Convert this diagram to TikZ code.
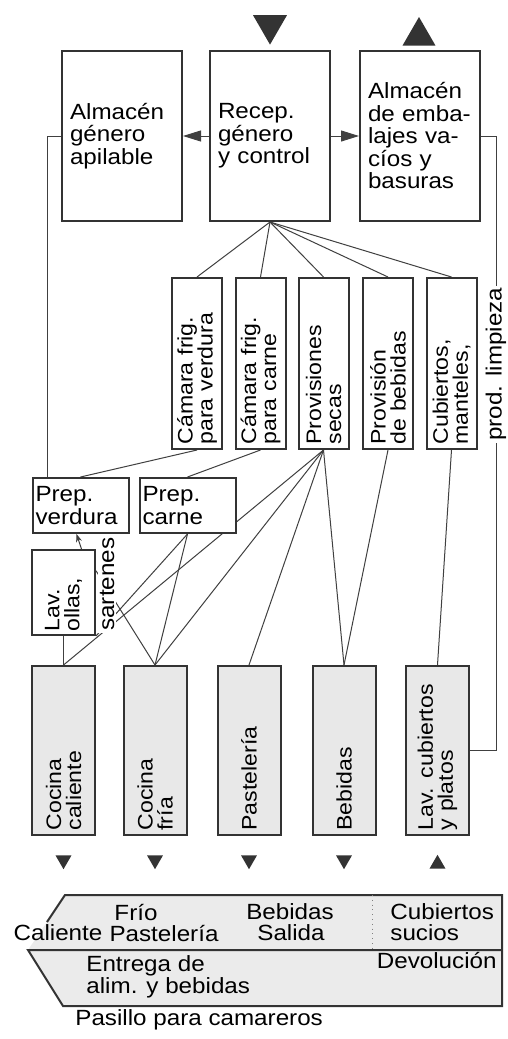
\documentclass[tikz,border=0pt]{standalone}
\usepackage{fontspec}
\setmainfont[FakeStretch=1.1]{Liberation Sans}
\usepackage{tikz}
\usetikzlibrary{positioning,calc,shapes.geometric,arrows.meta,backgrounds}
\tikzset{room/.style={draw=black!80,line width=1pt,fill=white,align=left,inner sep=3pt,
                      font=\fontsize{11}{11.25}\selectfont},
         store/.style={room,minimum width=60pt,minimum height=85pt,text width=52pt},
         prep/.style={room,minimum width=48pt,minimum height=27.5pt,text width=45pt,inner sep=1.5pt,
                      font=\fontsize{11}{11.5}\selectfont},
         vroom/.style={room,rotate=90,inner sep=1.5pt,minimum height=25pt,
                       font=\fontsize{10.5}{10}\selectfont},
         cook/.style={vroom,fill=black!9,minimum width=84.5pt,minimum height=31.5pt,text width=80pt},
         tag/.style={inner sep=1pt,font=\fontsize{11}{9.5}\selectfont,align=left},
         tri/.style={regular polygon,regular polygon sides=3,fill=black!80,inner sep=0pt},
         line/.style={draw=black!75,line width=0.5pt}
}
\tikzstyle{arrow} = [line,-{Triangle[length=9pt,width=5.5pt]}]

\begin{document}
\begin{tikzpicture}[x=0.5pt,y=-0.5pt]
\useasboundingbox (0,0) rectangle (508,1039);

% reception and stores
\node[store] (recep) at (270,136) {Recep.\\género\\y control};
\node[store,left=13pt of recep] (alm) {Almacén\\género\\apilable};
\node[store,right=14pt of recep] (emb) {Almacén\\de emba-\\lajes va-\\cíos y\\basuras};
\node[tri,minimum size=19.6pt,shape border rotate=180] (entry) at (270,25) {};
\node[tri,minimum size=19pt] (exit) at (419,36) {};

% cold rooms and provisions
\node[vroom,minimum width=85.5pt,text width=81pt] (frv) at (197,363.5) {Cámara frig.\\para verdura};
\node[vroom,minimum width=85.5pt,text width=81pt] (frc) at (260.5,363.5) {Cámara frig.\\para carne};
\node[vroom,minimum width=85.5pt,text width=81pt] (sec) at (323.5,363.5) {Provisiones\\secas};
\node[vroom,minimum width=85.5pt,text width=81pt] (pbeb) at (388,363.5) {Provisión\\de bebidas};
\node[vroom,minimum width=85.5pt,text width=81pt] (cub) at (451.5,363.5) {Cubiertos,\\manteles,};
\node[tag,rotate=90,anchor=west,fill=white] (limp) at (496,443) {prod. limpieza};

% preparation
\node[prep] (pv) at (80.5,505.5) {Prep.\\verdura};
\node[prep,right=4.5pt of pv] (pc) {Prep.\\carne};
\node[vroom,minimum width=42.5pt,minimum height=31.5pt,text width=39pt] (lav) at (63.5,592.5) {Lav.\\ollas,};
\node[tag,rotate=90,anchor=west,fill=white] (sart) at (107,633) {sartenes};

% kitchens
\node[cook] (cal) at (63.5,750.5) {Cocina\\caliente};
\node[cook] (fria) at (155,750.5) {Cocina\\fría};
\node[cook] (past) at (249,750.5) {Pastelería};
\node[cook] (bar) at (344,750.5) {Bebidas};
\node[cook] (lavc) at (437.5,750.5) {Lav. cubiertos\\y platos};
\node[tri,minimum size=9.2pt,shape border rotate=180] (d1) at (63.5,860) {};
\node[tri,minimum size=9.2pt,shape border rotate=180] (d2) at (155,860) {};
\node[tri,minimum size=9.2pt,shape border rotate=180] (d3) at (249,860) {};
\node[tri,minimum size=9.2pt,shape border rotate=180] (d4) at (344,860) {};
\node[tri,minimum size=9.2pt] (u5) at (437.5,864) {};

% waiters corridor
\fill[black!8] (65,895) -- (502,895) -- (502,1006) -- (63,1006) -- (28,950) -- (47,922) -- cycle;
\draw[black!80,line width=1pt] (47,922) -- (65,895) -- (502,895) -- (502,1006) -- (63,1006) -- (28,950) -- (502,950);
\draw[black!50,dotted] (372,895) -- (372,950);
\node[tag] (tfrio) at (136,912) {Frío};
\node[tag] (tbeb) at (290,912) {Bebidas};
\node[tag,anchor=west] (tcub) at (388,912) {Cubiertos};
\node[tag] (tcal) at (58,933) {Caliente};
\node[tag] (tpast) at (164,933) {Pastelería};
\node[tag] (tsal) at (291,933) {Salida};
\node[tag,anchor=west] (tsuc) at (388,933) {sucios};
\node[tag,anchor=east] (tdev) at (499,960) {Devolución};
\node[tag,anchor=west] (tent) at (84,977) {Entrega de\\alim. y bebidas};
\node[tag,anchor=west] (tpas) at (73,1020) {Pasillo para camareros};

\begin{scope}[on background layer]
\fill[white] (0,0) rectangle (508,1039);
\draw[line] (recep.south) -- (frv.east);
\draw[line] (recep.south) -- (frc.east);
\draw[line] (recep.south) -- (sec.east);
\draw[line] (recep.south) -- (pbeb.east);
\draw[line] (recep.south) -- (cub.east);
\draw[line] (frv.west) -- (pv.north);
\draw[line] (frc.west) -- (pc.north);
\draw[line] (sec.west) -- (cal.east);
\draw[line] (sec.west) -- (fria.east);
\draw[line] (sec.west) -- (past.east);
\draw[line] (sec.west) -- (bar.east);
\draw[line] (pbeb.west) -- (bar.east);
\draw[line] (cub.west) -- (lavc.east);
\draw[line] (pc.south) -- (fria.east);
\draw[line] (lav.south west) -- (pc.south);
\draw[line] ($(lav.south east)!0.5!(lav.south)$) -- (fria.east);
\draw[line] (lav.west) -- (cal.east);
\draw[line,-{Stealth[length=4pt,width=3pt]}] ($(lav.east)+(18,0)$) -- ($(pv.south)+(-4,0)$);
\draw[line] (alm.west) -| ($(pv.north west)+(16,0)$);
\draw[line] (emb.east) -- ++(15,0) |- (lavc.south);
\end{scope}
\draw[arrow] (recep) -- (alm);
\draw[arrow] (recep) -- (emb);

\end{tikzpicture}
\end{document}
